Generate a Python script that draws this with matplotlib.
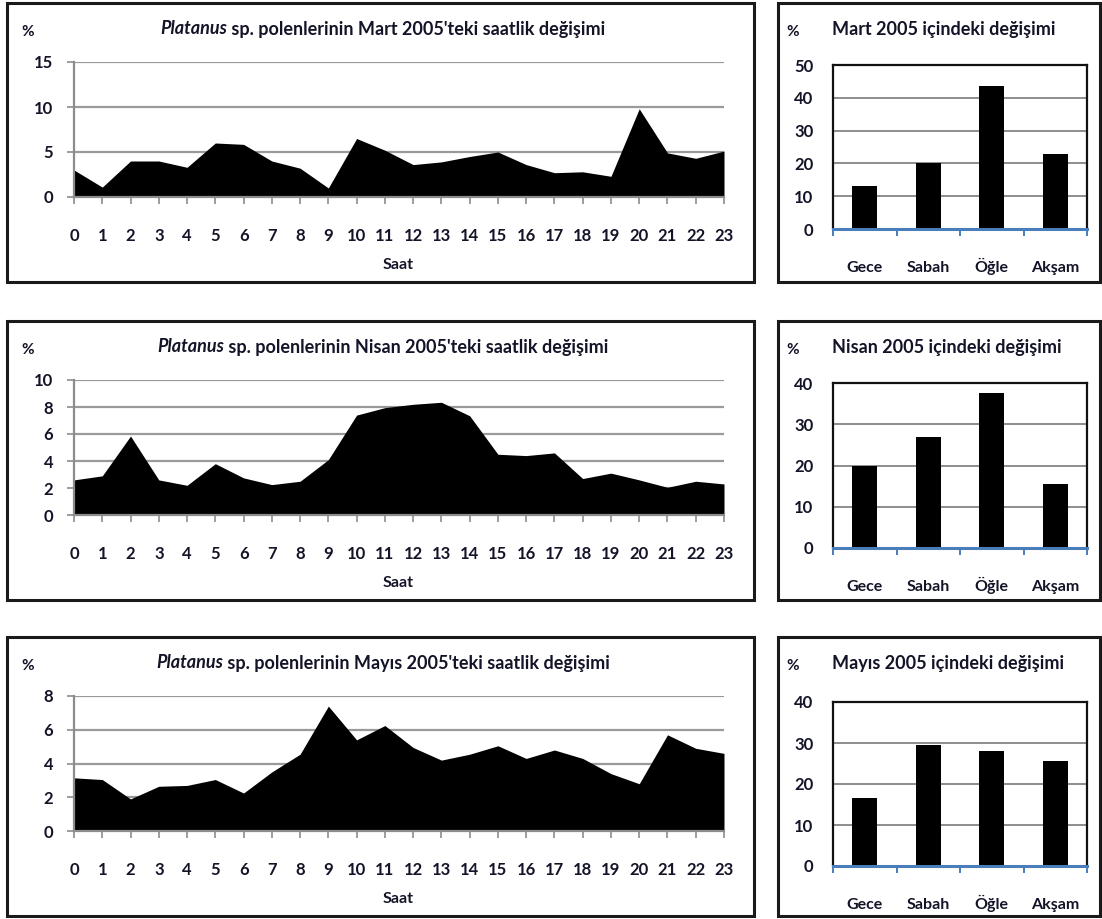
import matplotlib
matplotlib.use("Agg")
import matplotlib.pyplot as plt
from matplotlib.patches import Rectangle
import numpy as np

plt.rcParams["font.family"] = ["Lato", "DejaVu Sans"]

W, H = 1102, 919

hours = list(range(24))
months = ["Mart", "Nisan", "Mayıs"]

mart_hourly = [3.0, 1.1, 4.0, 4.0, 3.3, 6.0, 5.85, 4.0, 3.2, 1.0, 6.5, 5.2,
               3.6, 3.9, 4.5, 5.0, 3.6, 2.7, 2.8, 2.3, 9.8, 4.9, 4.3, 5.1]
nisan_hourly = [2.6, 2.9, 5.85, 2.6, 2.2, 3.8, 2.75, 2.25, 2.5, 4.1, 7.4, 7.95,
                8.2, 8.35, 7.35, 4.5, 4.4, 4.6, 2.7, 3.1, 2.6, 2.05, 2.5, 2.3]
mayis_hourly = [3.15, 3.05, 1.9, 2.65, 2.7, 3.05, 2.25, 3.5, 4.55, 7.4, 5.4, 6.25,
                4.95, 4.2, 4.55, 5.05, 4.3, 4.8, 4.3, 3.4, 2.8, 5.7, 4.9, 4.6]
hourly = [mart_hourly, nisan_hourly, mayis_hourly]
hourly_ymax = [15, 10, 8]
hourly_step = [5, 2, 2]

periods = ["Gece", "Sabah", "Öğle", "Akşam"]
mart_period = [13, 20, 43.5, 23]
nisan_period = [20, 27, 37.5, 15.5]
mayis_period = [16.5, 29.5, 28, 25.5]
period_vals = [mart_period, nisan_period, mayis_period]
period_ymax = [50, 40, 40]

TXT = "#141428"


def box(left, top, right, bottom):
    return [left / W, 1 - bottom / H, (right - left) / W, (bottom - top) / H]


def ftext(x, y, s, **kw):
    return fig.text(x / W, 1 - y / H, s, color=TXT, va="center", **kw)


fig = plt.figure(figsize=(W / 100, H / 100), dpi=100)
renderer = fig.canvas.get_renderer()

row_dy = [0, 318, 634]

for i, month in enumerate(months):
    dy = row_dy[i]

    # panel frames
    for l, r in [(7, 754), (778, 1100)]:
        fig.patches.append(Rectangle((l / W, 1 - (282 + dy) / H), (r - l) / W, 279 / H,
                                     transform=fig.transFigure, fill=False,
                                     edgecolor="#1a1a1a", linewidth=2.2))

    # hourly area chart
    ax = fig.add_axes(box(74, 62 + dy, 724, 197 + dy))
    ax.fill_between(hours, hourly[i], 0, color="black", linewidth=0)
    ax.set_xlim(0, 23)
    ax.set_ylim(0, hourly_ymax[i])
    yt = np.arange(0, hourly_ymax[i] + 1, hourly_step[i])
    ax.set_yticks(yt, labels=[str(v) for v in yt], fontweight="bold")
    ax.set_xticks(hours, labels=[str(h) for h in hours], fontweight="bold")
    ax.set_axisbelow(True)
    ax.grid(axis="y", color="#9a9a9a", linewidth=1.6)
    for s in ["top", "right"]:
        ax.spines[s].set_visible(False)
    for s in ["left", "bottom"]:
        ax.spines[s].set_color("#8c8c8c")
        ax.spines[s].set_linewidth(1.6)
    ax.tick_params(axis="x", length=5, width=1.2, color="#8c8c8c", pad=17,
                   labelsize=12, labelcolor=TXT)
    ax.tick_params(axis="y", length=5, width=1.2, color="#8c8c8c", pad=10,
                   labelsize=12, labelcolor=TXT)

    ftext(28, 32 + dy, "%", fontsize=11, fontweight="bold", ha="center")
    ftext(398, 265 + dy, "Saat", fontsize=11.5, fontweight="bold", ha="center")

    # title: italic genus name + regular rest, centred together
    t1 = ftext(0, 29 + dy, "Platanus", fontsize=13, style="italic",
               fontweight="bold", ha="left")
    t2 = ftext(0, 29 + dy, f" sp. polenlerinin {month} 2005'teki saatlik değişimi",
               fontsize=13, fontweight="bold", ha="left")
    w1 = t1.get_window_extent(renderer).width
    w2 = t2.get_window_extent(renderer).width
    x0 = 383 - (w1 + w2) / 2
    t1.set_x(x0 / W)
    t2.set_x((x0 + w1) / W)

    # period bar chart
    bx = fig.add_axes(box(833, [65, 383, 702][i], 1087, [229, 548, 866][i]))
    xs = np.arange(len(periods))
    bx.bar(xs, period_vals[i], width=0.4, color="black", zorder=3)
    bx.set_xlim(-0.5, len(periods) - 0.5)
    bx.set_ylim(0, period_ymax[i])
    byt = np.arange(0, period_ymax[i] + 1, 10)
    bx.set_yticks(byt, labels=[str(v) for v in byt], fontweight="bold")
    bx.set_xticks(xs, labels=periods, fontweight="bold", va="baseline")
    bx.set_xticks(np.arange(-0.5, len(periods)), minor=True)
    bx.grid(axis="y", color="#7a7a7a", linewidth=1.2, zorder=1)
    for s in ["top", "right", "left"]:
        bx.spines[s].set_color("#111111")
        bx.spines[s].set_linewidth(1.6)
    bx.spines["bottom"].set_color("#4a7ebb")
    bx.spines["bottom"].set_linewidth(2.2)
    bx.spines["bottom"].set_zorder(4)
    bx.tick_params(axis="x", which="major", length=0, pad=31, labelsize=11.5,
                   labelcolor=TXT)
    bx.tick_params(axis="x", which="minor", length=5, width=1.4, color="#4a7ebb")
    bx.tick_params(axis="y", length=0, pad=14, labelsize=12, labelcolor=TXT)

    ftext(793, 32 + dy, "%", fontsize=11, fontweight="bold", ha="center")
    ftext(832, 29 + dy, f"{month} 2005 içindeki değişimi", fontsize=13,
          fontweight="bold", ha="left")

fig.savefig("out.png", dpi=100)
